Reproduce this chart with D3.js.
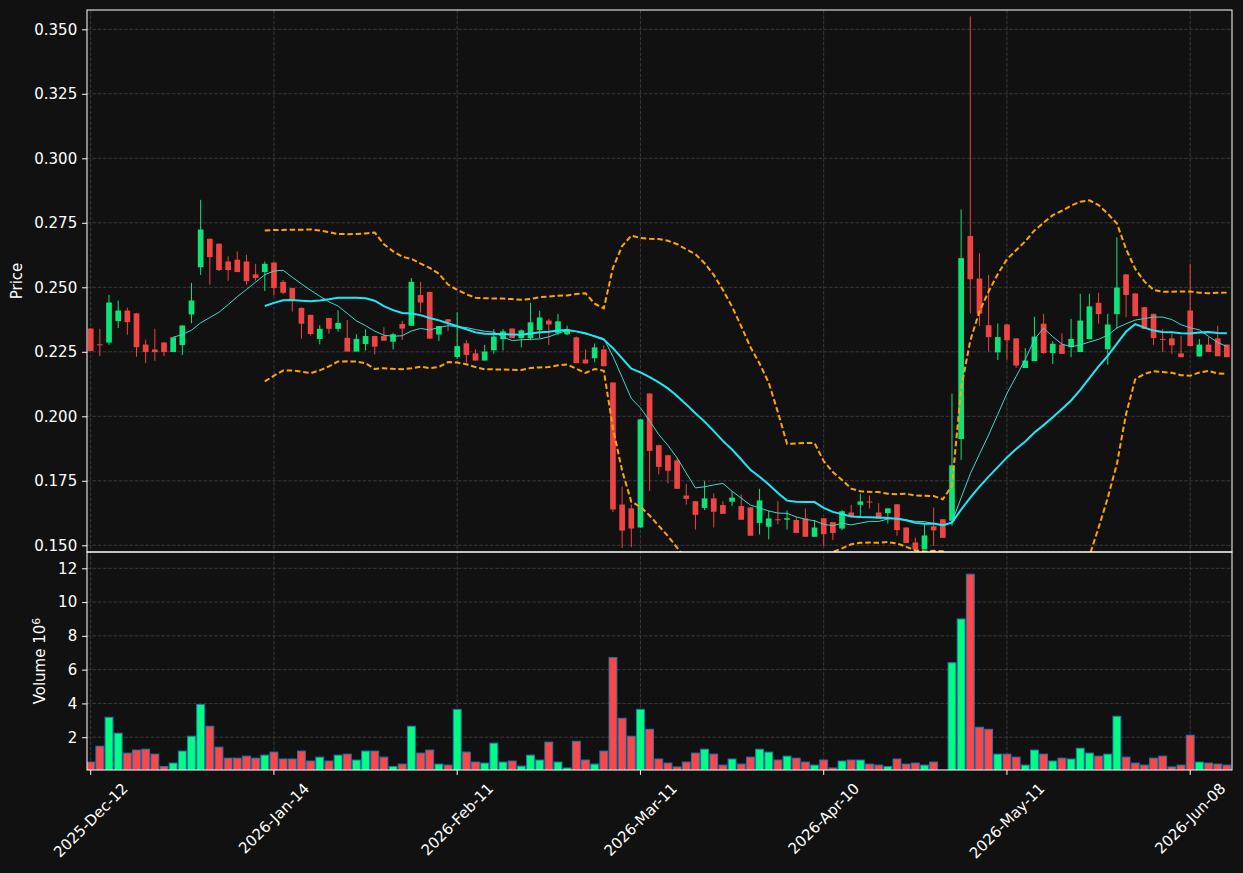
<!DOCTYPE html>
<html>
<head>
<meta charset="utf-8">
<script src="https://cdn.jsdelivr.net/npm/d3@7"></script>
<style>
  html, body { margin: 0; padding: 0; background: #111111; }
  svg { display: block; font-family: "DejaVu Sans", sans-serif; }
</style>
</head>
<body>
<svg id="chart"></svg>
<script>
// tick labels on the x axis (every 20th candle)
const tickIndex = [0, 20, 40, 60, 80, 100, 120];
const tickLabels = ['2025-Dec-12', '2026-Jan-14', '2026-Feb-11', '2026-Mar-11', '2026-Apr-10', '2026-May-11', '2026-Jun-08'];

const opens = [
  0.2340, 0.2279, 0.2286, 0.2369, 0.2410, 0.2399, 0.2278, 0.2259, 0.2286, 0.2249,
  0.2276, 0.2395, 0.2578, 0.2688, 0.2669, 0.2600, 0.2607, 0.2600, 0.2550, 0.2559,
  0.2596, 0.2521, 0.2497, 0.2420, 0.2393, 0.2300, 0.2381, 0.2339, 0.2304, 0.2251,
  0.2280, 0.2311, 0.2311, 0.2289, 0.2358, 0.2351, 0.2470, 0.2482, 0.2317, 0.2376,
  0.2230, 0.2283, 0.2244, 0.2216, 0.2256, 0.2299, 0.2340, 0.2303, 0.2303, 0.2334,
  0.2371, 0.2322, 0.2318, 0.2306, 0.2220, 0.2225, 0.2259, 0.2131, 0.1658, 0.1643,
  0.1569, 0.2088, 0.1888, 0.1849, 0.1829, 0.1693, 0.1671, 0.1645, 0.1682, 0.1656,
  0.1669, 0.1652, 0.1647, 0.1587, 0.1572, 0.1601, 0.1599, 0.1598, 0.1604, 0.1533,
  0.1605, 0.1590, 0.1565, 0.1627, 0.1657, 0.1670, 0.1627, 0.1625, 0.1659, 0.1569,
  0.1511, 0.1484, 0.1574, 0.1601, 0.1595, 0.1912, 0.2699, 0.2534, 0.2353, 0.2248,
  0.2356, 0.2302, 0.2187, 0.2214, 0.2359, 0.2245, 0.2278, 0.2268, 0.2249, 0.2299,
  0.2440, 0.2260, 0.2396, 0.2550, 0.2476, 0.2423, 0.2397, 0.2300, 0.2302, 0.2244,
  0.2410, 0.2232, 0.2278, 0.2302, 0.2278
];
const highs = [
  0.2342, 0.2339, 0.2471, 0.2449, 0.2421, 0.2400, 0.2297, 0.2339, 0.2287, 0.2306,
  0.2352, 0.2517, 0.2839, 0.2689, 0.2670, 0.2620, 0.2639, 0.2626, 0.2591, 0.2600,
  0.2597, 0.2528, 0.2498, 0.2422, 0.2394, 0.2353, 0.2382, 0.2411, 0.2373, 0.2318,
  0.2337, 0.2312, 0.2345, 0.2324, 0.2370, 0.2536, 0.2521, 0.2483, 0.2350, 0.2377,
  0.2403, 0.2295, 0.2260, 0.2277, 0.2338, 0.2338, 0.2341, 0.2337, 0.2440, 0.2409,
  0.2378, 0.2397, 0.2351, 0.2309, 0.2259, 0.2282, 0.2275, 0.2132, 0.1728, 0.1658,
  0.1988, 0.2090, 0.1890, 0.1850, 0.1837, 0.1738, 0.1672, 0.1750, 0.1701, 0.1671,
  0.1710, 0.1697, 0.1648, 0.1719, 0.1635, 0.1671, 0.1635, 0.1610, 0.1643, 0.1598,
  0.1606, 0.1591, 0.1636, 0.1657, 0.1700, 0.1693, 0.1663, 0.1643, 0.1660, 0.1570,
  0.1530, 0.1579, 0.1646, 0.1602, 0.2088, 0.2802, 0.3550, 0.2632, 0.2548, 0.2360,
  0.2357, 0.2303, 0.2264, 0.2386, 0.2397, 0.2291, 0.2322, 0.2378, 0.2475, 0.2475,
  0.2479, 0.2397, 0.2694, 0.2551, 0.2477, 0.2424, 0.2398, 0.2339, 0.2320, 0.2312,
  0.2591, 0.2300, 0.2307, 0.2351, 0.2279
];
const lows = [
  0.2253, 0.2233, 0.2277, 0.2342, 0.2316, 0.2231, 0.2206, 0.2215, 0.2233, 0.2249,
  0.2238, 0.2361, 0.2548, 0.2510, 0.2563, 0.2525, 0.2559, 0.2510, 0.2526, 0.2486,
  0.2468, 0.2474, 0.2406, 0.2301, 0.2313, 0.2279, 0.2320, 0.2328, 0.2251, 0.2251,
  0.2255, 0.2240, 0.2293, 0.2260, 0.2296, 0.2351, 0.2402, 0.2301, 0.2292, 0.2331,
  0.2222, 0.2208, 0.2216, 0.2216, 0.2242, 0.2255, 0.2303, 0.2267, 0.2295, 0.2303,
  0.2276, 0.2315, 0.2315, 0.2206, 0.2205, 0.2210, 0.2194, 0.1629, 0.1490, 0.1493,
  0.1569, 0.1711, 0.1775, 0.1740, 0.1719, 0.1658, 0.1561, 0.1636, 0.1569, 0.1622,
  0.1653, 0.1599, 0.1537, 0.1542, 0.1523, 0.1581, 0.1561, 0.1548, 0.1533, 0.1533,
  0.1497, 0.1520, 0.1559, 0.1609, 0.1609, 0.1643, 0.1602, 0.1584, 0.1537, 0.1509,
  0.1484, 0.1484, 0.1497, 0.1529, 0.1575, 0.1831, 0.2398, 0.2350, 0.2251, 0.2218,
  0.2219, 0.2188, 0.2187, 0.2214, 0.2242, 0.2203, 0.2242, 0.2229, 0.2249, 0.2299,
  0.2359, 0.2200, 0.2338, 0.2384, 0.2388, 0.2338, 0.2277, 0.2249, 0.2242, 0.2229,
  0.2272, 0.2232, 0.2249, 0.2233, 0.2229
];
const closes = [
  0.2253, 0.2276, 0.2441, 0.2410, 0.2365, 0.2268, 0.2249, 0.2249, 0.2249, 0.2306,
  0.2352, 0.2449, 0.2724, 0.2617, 0.2567, 0.2567, 0.2559, 0.2524, 0.2536, 0.2591,
  0.2497, 0.2479, 0.2453, 0.2359, 0.2319, 0.2339, 0.2339, 0.2362, 0.2251, 0.2300,
  0.2311, 0.2270, 0.2293, 0.2318, 0.2340, 0.2521, 0.2441, 0.2301, 0.2350, 0.2366,
  0.2272, 0.2238, 0.2216, 0.2251, 0.2309, 0.2329, 0.2303, 0.2333, 0.2364, 0.2383,
  0.2356, 0.2368, 0.2337, 0.2206, 0.2205, 0.2267, 0.2194, 0.1639, 0.1557, 0.1565,
  0.1988, 0.1866, 0.1804, 0.1789, 0.1719, 0.1680, 0.1618, 0.1682, 0.1630, 0.1622,
  0.1685, 0.1599, 0.1537, 0.1674, 0.1604, 0.1599, 0.1605, 0.1548, 0.1533, 0.1569,
  0.1543, 0.1548, 0.1632, 0.1613, 0.1670, 0.1667, 0.1602, 0.1643, 0.1559, 0.1509,
  0.1484, 0.1538, 0.1558, 0.1529, 0.1810, 0.2613, 0.2531, 0.2398, 0.2307, 0.2307,
  0.2295, 0.2197, 0.2216, 0.2309, 0.2245, 0.2281, 0.2242, 0.2300, 0.2371, 0.2426,
  0.2396, 0.2356, 0.2499, 0.2470, 0.2388, 0.2338, 0.2303, 0.2298, 0.2275, 0.2229,
  0.2272, 0.2278, 0.2249, 0.2233, 0.2229
];
// volume in millions
const volumes = [
  0.53, 1.47, 3.18, 2.24, 1.06, 1.24, 1.29, 1.00, 0.27, 0.47,
  1.18, 2.06, 3.94, 2.65, 1.41, 0.76, 0.76, 0.88, 0.76, 0.94,
  1.12, 0.71, 0.71, 1.18, 0.59, 0.82, 0.59, 0.94, 1.00, 0.65,
  1.18, 1.18, 0.82, 0.27, 0.41, 2.65, 1.06, 1.24, 0.41, 0.35,
  3.65, 1.12, 0.53, 0.47, 1.65, 0.53, 0.59, 0.29, 0.94, 0.65,
  1.71, 0.53, 0.18, 1.76, 0.65, 0.41, 1.18, 6.71, 3.12, 2.06,
  3.65, 2.47, 0.71, 0.47, 0.24, 0.53, 1.06, 1.29, 1.00, 0.35,
  0.71, 0.41, 0.82, 1.29, 1.12, 0.65, 0.88, 0.76, 0.53, 0.35,
  0.65, 0.18, 0.59, 0.65, 0.65, 0.41, 0.35, 0.27, 0.71, 0.41,
  0.47, 0.35, 0.53, 0.05, 6.41, 9.00, 11.65, 2.59, 2.47, 1.00,
  1.00, 0.82, 0.35, 1.24, 1.00, 0.59, 0.76, 0.71, 1.35, 1.06,
  0.88, 1.00, 3.24, 0.82, 0.47, 0.35, 0.76, 0.88, 0.24, 0.35,
  2.12, 0.53, 0.47, 0.41, 0.35
];
const priceTicks = [0.150, 0.175, 0.200, 0.225, 0.250, 0.275, 0.300, 0.325, 0.350];
const volumeTicks = [2, 4, 6, 8, 10, 12];

const width = 1243, height = 873;
const plotL = 87, plotR = 1232, plotT = 10, plotSplit = 552, plotB = 770;
const fontSize = '15px';

const upColor = '#10e27a', downColor = '#ef4444';
const upVol = '#00ff80', downVol = '#ff4646';
const gridColor = '#3a3a3a', textColor = '#ffffff';

const svg = d3.select('#chart').attr('width', width).attr('height', height);
svg.append('rect').attr('width', width).attr('height', height).attr('fill', '#111111');

const data = opens.map((o, i) => ({
  i, open: o, high: highs[i], low: lows[i], close: closes[i], vol: volumes[i]
}));

const x = d3.scaleLinear().domain([0, 120]).range([90.7, 1190.2]);
const step = x(1) - x(0);
const y = d3.scaleLinear().domain([0.150, 0.350]).range([545.3, 29.3]);
const yv = d3.scaleLinear().domain([0, 12]).range([771, 568.3]);

// clip paths
const defs = svg.append('defs');
defs.append('clipPath').attr('id', 'clipPrice')
  .append('rect').attr('x', plotL).attr('y', plotT).attr('width', plotR - plotL).attr('height', plotSplit - plotT);
defs.append('clipPath').attr('id', 'clipVol')
  .append('rect').attr('x', plotL).attr('y', plotSplit).attr('width', plotR - plotL).attr('height', plotB - plotSplit);

// grid
const grid = svg.append('g');
tickIndex.forEach(t => {
  grid.append('line')
    .attr('x1', x(t)).attr('x2', x(t)).attr('y1', plotT).attr('y2', plotB)
    .attr('stroke', gridColor).attr('stroke-dasharray', '3.7,1.6');
});
priceTicks.forEach(p => {
  grid.append('line')
    .attr('x1', plotL).attr('x2', plotR).attr('y1', y(p)).attr('y2', y(p))
    .attr('stroke', gridColor).attr('stroke-dasharray', '3.7,1.6');
});
volumeTicks.forEach(v => {
  grid.append('line')
    .attr('x1', plotL).attr('x2', plotR).attr('y1', yv(v)).attr('y2', yv(v))
    .attr('stroke', gridColor).attr('stroke-dasharray', '3.7,1.6');
});

// candles
const pricePlot = svg.append('g').attr('clip-path', 'url(#clipPrice)');
const bodyW = step * 0.62;
const candles = pricePlot.selectAll('.candle')
  .data(data)
  .enter().append('g')
  .attr('class', 'candle');

candles.append('line')
  .attr('x1', d => x(d.i)).attr('x2', d => x(d.i))
  .attr('y1', d => y(d.high)).attr('y2', d => y(d.low))
  .attr('stroke', d => d.close >= d.open ? upColor : downColor)
  .attr('stroke-width', 1);

candles.append('rect')
  .attr('x', d => x(d.i) - bodyW / 2)
  .attr('y', d => y(Math.max(d.open, d.close)))
  .attr('width', bodyW)
  .attr('height', d => Math.max(1, Math.abs(y(d.open) - y(d.close))))
  .attr('fill', d => d.close >= d.open ? upColor : downColor);

// moving averages and bollinger bands from the closes
function rolling(n, fn) {
  return closes.map((c, i) => {
    if (i < n - 1) return null;
    return fn(closes.slice(i - n + 1, i + 1));
  });
}
const ma10 = rolling(10, w => d3.mean(w));
const ma20 = rolling(20, w => d3.mean(w));
const sd20 = rolling(20, w => {
  const m = d3.mean(w);
  return Math.sqrt(d3.mean(w, v => (v - m) * (v - m)));
});
const upper = ma20.map((m, i) => m === null ? null : m + 2 * sd20[i]);
const lower = ma20.map((m, i) => m === null ? null : m - 2 * sd20[i]);

const line = d3.line()
  .defined(d => d !== null)
  .x((d, i) => x(i))
  .y(d => y(d));

pricePlot.append('path').datum(upper)
  .attr('d', line).attr('fill', 'none')
  .attr('stroke', '#ffa500').attr('stroke-width', 2).attr('stroke-dasharray', '5.5,2.8');
pricePlot.append('path').datum(lower)
  .attr('d', line).attr('fill', 'none')
  .attr('stroke', '#ffa500').attr('stroke-width', 2).attr('stroke-dasharray', '5.5,2.8');
pricePlot.append('path').datum(ma10)
  .attr('d', line).attr('fill', 'none')
  .attr('stroke', '#40d8cc').attr('stroke-width', 1);
pricePlot.append('path').datum(ma20)
  .attr('d', line).attr('fill', 'none')
  .attr('stroke', '#1ee8f8').attr('stroke-width', 2);

// volume bars
const volPlot = svg.append('g').attr('clip-path', 'url(#clipVol)');
const volW = step * 0.86;
volPlot.selectAll('.vbar')
  .data(data)
  .enter().append('rect')
  .attr('class', 'vbar')
  .attr('x', d => x(d.i) - volW / 2)
  .attr('y', d => yv(d.vol))
  .attr('width', volW)
  .attr('height', d => yv(0) - yv(d.vol))
  .attr('fill', d => d.close >= d.open ? upVol : downVol)
  .attr('stroke', '#1f77b4')
  .attr('stroke-width', 1);

// frames
svg.append('rect')
  .attr('x', plotL).attr('y', plotT).attr('width', plotR - plotL).attr('height', plotSplit - plotT)
  .attr('fill', 'none').attr('stroke', '#ffffff').attr('stroke-width', 1);
svg.append('rect')
  .attr('x', plotL).attr('y', plotSplit).attr('width', plotR - plotL).attr('height', plotB - plotSplit)
  .attr('fill', 'none').attr('stroke', '#ffffff').attr('stroke-width', 1);

// Y axes
const yAxis = svg.append('g')
  .attr('transform', `translate(${plotL},0)`)
  .call(d3.axisLeft(y).tickValues(priceTicks).tickFormat(d3.format('.3f')).tickSize(4.9).tickPadding(4.9));
const vAxis = svg.append('g')
  .attr('transform', `translate(${plotL},0)`)
  .call(d3.axisLeft(yv).tickValues(volumeTicks).tickFormat(d3.format('d')).tickSize(4.9).tickPadding(4.9));
[yAxis, vAxis].forEach(a => {
  a.select('.domain').remove();
  a.selectAll('line').attr('stroke', textColor);
  a.selectAll('text').attr('fill', textColor).style('font-size', fontSize).style('font-family', '"DejaVu Sans", sans-serif');
});

// X axis ticks and rotated labels
const xAxis = svg.append('g');
tickIndex.forEach((t, k) => {
  xAxis.append('line')
    .attr('x1', x(t)).attr('x2', x(t)).attr('y1', plotB).attr('y2', plotB + 4.9)
    .attr('stroke', textColor);
  const txt = xAxis.append('text')
    .attr('text-anchor', 'middle')
    .attr('dy', '0.35em')
    .attr('fill', textColor)
    .style('font-size', fontSize)
    .text(tickLabels[k]);
  const w = txt.node().getComputedTextLength();
  const h = (w + 17) * Math.SQRT1_2;
  txt.attr('transform', `translate(${x(t)},${plotB + 9.8 + h / 2}) rotate(-45)`);
});

// axis labels
svg.append('text')
  .attr('transform', `translate(22,${(plotT + plotSplit) / 2}) rotate(-90)`)
  .attr('text-anchor', 'middle')
  .attr('fill', textColor)
  .style('font-size', fontSize)
  .text('Price');

const vLabel = svg.append('text')
  .attr('transform', `translate(45,${(plotSplit + plotB) / 2}) rotate(-90)`)
  .attr('text-anchor', 'middle')
  .attr('fill', textColor)
  .style('font-size', fontSize);
vLabel.append('tspan').text('Volume  10');
vLabel.append('tspan').attr('dy', '-0.5em').style('font-size', '11px').text('6');
</script>
</body>
</html>
